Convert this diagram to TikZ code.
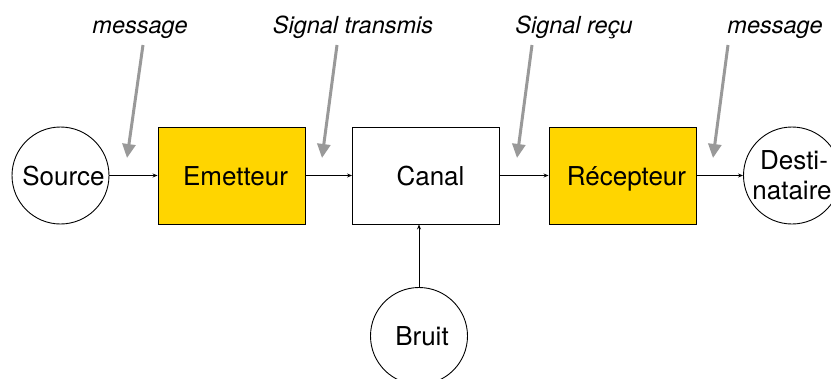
\documentclass[tikz,border=0pt]{standalone}
\usepackage{fontspec}
\setmainfont{TeX Gyre Heros}
\usetikzlibrary{arrows.meta}
\definecolor{gold}{RGB}{255,213,0}
\definecolor{pgray}{RGB}{153,153,153}
\tikzset{
  blk/.style={draw=black, line width=0.9pt, minimum width=147pt, minimum height=97pt, inner sep=0pt,
    text height=25pt, text depth=6pt, font=\fontsize{26}{30}\selectfont},
  ybox/.style={blk, fill=gold},
  wbox/.style={blk, fill=white},
  circ/.style={circle, draw=black, line width=0.9pt, minimum size=97pt, inner sep=0pt,
    font=\fontsize{26}{30}\selectfont},
  circ1/.style={circ, text height=25pt, text depth=6pt},
  circ2/.style={circ, align=center},
  lbl/.style={font=\fontsize{23.5}{28}\selectfont\itshape, inner sep=0pt, anchor=base},
  flow/.style={line width=0.8pt, -{Stealth[length=5pt,width=4pt]}},
  ptr/.style={draw=pgray, line width=3pt, -{Triangle[length=14pt,width=13pt]}, pgray}
}
\begin{document}
\begin{tikzpicture}[x=1pt,y=-1pt]
\useasboundingbox (0,0) rectangle (831,378);
\clip (0,0) rectangle (831,378);
\node[circ1] (src) at (60.5,175.5) {\hspace*{6pt}Source};
\node[ybox] (emet) at (231.5,175.5) {\hspace*{8pt}Emetteur};
\node[wbox] (canal) at (426,175.5) {\hspace*{9pt}Canal};
\node[ybox] (recep) at (622.5,175.5) {\hspace*{8pt}Récepteur};
\node[circ2] (dest) at (792,175.5) {\hspace*{4pt}Desti-\\nataire};
\node[circ1] (bruit) at (419,336) {\hspace*{6pt}Bruit};

\draw[flow] (src) -- (emet);
\draw[flow] (emet) -- (canal);
\draw[flow] (canal) -- (recep);
\draw[flow] (recep) -- (dest);
\draw[flow] (bruit) -- (bruit |- canal.south);

\node[lbl] (l1) at (140,33) {message};
\node[lbl] (l2) at (353,33) {Signal transmis};
\node[lbl] (l3) at (574,33) {Signal reçu};
\node[lbl] (l4) at (775,33) {message};

\coordinate (s1) at (143,45); \coordinate (e1) at (127,158);
\coordinate (s2) at (337,45); \coordinate (e2) at (322,158);
\coordinate (s3) at (532,45); \coordinate (e3) at (517,158);
\coordinate (s4) at (728,45); \coordinate (e4) at (713,158);
\draw[ptr] (s1) -- (e1);
\draw[ptr] (s2) -- (e2);
\draw[ptr] (s3) -- (e3);
\draw[ptr] (s4) -- (e4);
\end{tikzpicture}
\end{document}
